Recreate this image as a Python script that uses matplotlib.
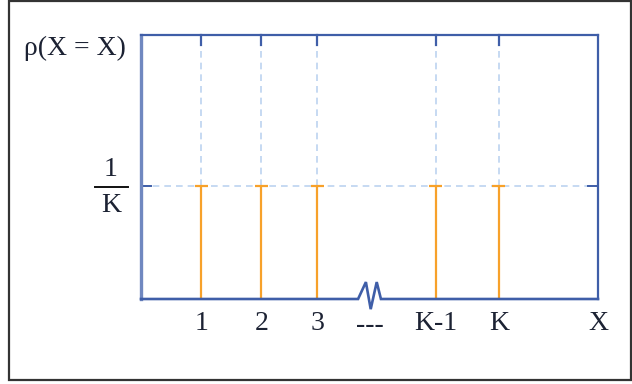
import numpy as np
import matplotlib
matplotlib.use("Agg")
import matplotlib.pyplot as plt
from matplotlib.patches import Rectangle

# Loi uniforme discrète sur {1, ..., K}
labels = ["1", "2", "3", "K-1", "K"]
positions = [1, 2, 2.93, 4.9, 5.95]
prob = 1.0           # hauteur 1/K
y_top = 2.34
x_max = 7.6

AXIS = "#3f5ea8"
GRID = "#bcd3f0"
BAR = "#f7a12a"
TXT = "#1c2233"
FS = 20

plt.rcParams["font.family"] = ["Liberation Serif", "DejaVu Serif"]

fig = plt.figure(figsize=(6.32, 3.84), dpi=100)
fig.patches.append(Rectangle((9 / 632, 4 / 384), 622 / 632, 379 / 384,
                             transform=fig.transFigure, fill=False,
                             edgecolor="#333333", linewidth=1.6))

ax = fig.add_axes([141 / 632, 85 / 384, 457 / 632, 264 / 384])
ax.set_xlim(0, x_max)
ax.set_ylim(0, y_top)

# grille pointillée
for x in positions:
    ax.plot([x, x], [prob, y_top], "--", color=GRID, lw=1.2, dashes=(4, 3))
ax.plot([0, x_max], [prob, prob], "--", color=GRID, lw=1.2, dashes=(4, 3))

# bâtons
ax.vlines(positions, 0, prob, color=BAR, lw=1.6, zorder=3)
ax.hlines([prob] * len(positions), np.array(positions) - 0.11,
          np.array(positions) + 0.11, color=BAR, lw=1.6, zorder=3)

# cadre sans l'axe du bas (tracé à la main avec la coupure)
for s in ["top", "right"]:
    ax.spines[s].set_color(AXIS)
    ax.spines[s].set_linewidth(1.6)
ax.spines["left"].set_color("#7088c0")
ax.spines["left"].set_linewidth(2.4)
ax.spines["bottom"].set_visible(False)

bx = [0, 3.61, 3.74, 3.82, 3.92, 3.99, x_max]
by = [0, 0, 0.15, -0.09, 0.15, 0, 0]
ax.plot(bx, by, color=AXIS, lw=1.9, clip_on=False,
        solid_joinstyle="miter", zorder=4)

# petites graduations
for x in positions:
    ax.plot([x, x], [y_top, y_top - 0.09], color=AXIS, lw=1.6, clip_on=False)
ax.plot([0, 0.16], [prob, prob], color=AXIS, lw=1.4)
ax.plot([x_max - 0.16, x_max], [prob, prob], color=AXIS, lw=1.4)

ax.set_xticks([])
ax.set_yticks([])

# étiquettes
for x, lab in zip(positions, labels):
    ax.text(x, -0.11, lab, ha="center", va="top", fontsize=FS, color=TXT)
ax.text(3.8, -0.12, "---", ha="center", va="top", fontsize=FS, color=TXT)
ax.text(x_max, -0.11, "X", ha="center", va="top", fontsize=FS, color=TXT)

fig.text(75 / 632, 1 - 48 / 384, "ρ(X = X)", ha="center", va="center",
         fontsize=FS, color=TXT)
fig.text(111 / 632, 1 - 170 / 384, "1", ha="center", va="center",
         fontsize=FS, color=TXT)
fig.text(111 / 632, 1 - 205 / 384, "K", ha="center", va="center",
         fontsize=FS, color=TXT)
fig.add_artist(plt.Line2D([95 / 632, 128 / 632], [1 - 187 / 384] * 2,
                          color="#111111", lw=1.4))

fig.savefig("out.png", dpi=100)
